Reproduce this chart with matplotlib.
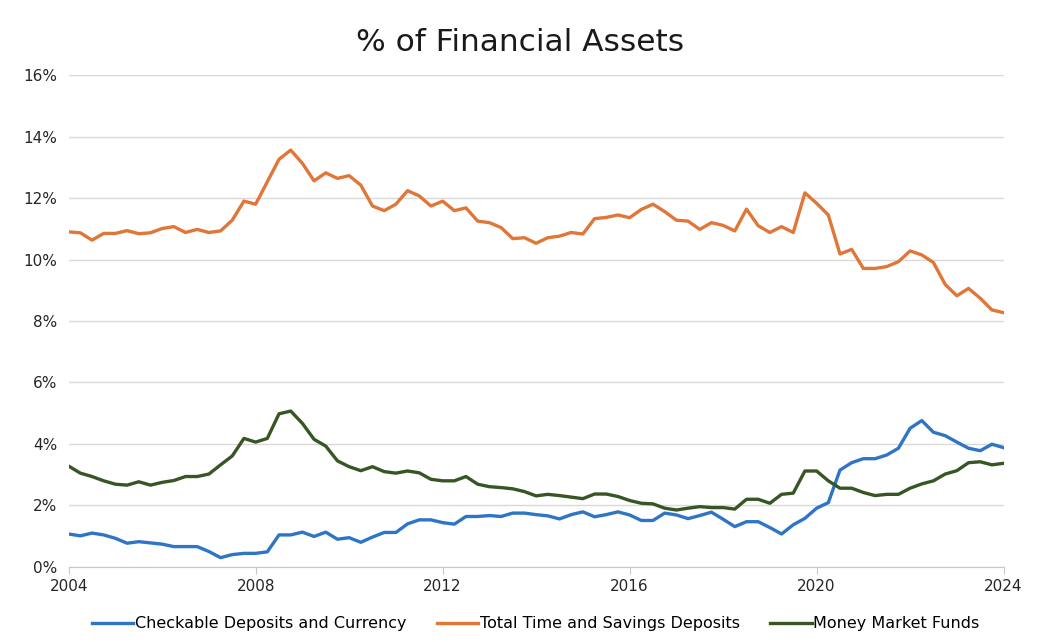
import numpy as np
import matplotlib.pyplot as plt

# quarterly observations, 2004 Q1 .. 2024 Q1
quarters = 2004 + np.arange(81) / 4.0

checkable = [1.07, 1.01, 1.10, 1.04,
             0.93, 0.77, 0.82, 0.78,
             0.74, 0.66, 0.66, 0.66,
             0.50, 0.30, 0.40, 0.44,
             0.44, 0.49, 1.04, 1.04,
             1.13, 0.99, 1.13, 0.90,
             0.95, 0.80, 0.97, 1.12,
             1.12, 1.40, 1.53, 1.53,
             1.44, 1.39, 1.64, 1.64,
             1.67, 1.64, 1.75, 1.75,
             1.70, 1.66, 1.56, 1.70,
             1.79, 1.63, 1.70, 1.79,
             1.69, 1.51, 1.51, 1.75,
             1.69, 1.57, 1.67, 1.78,
             1.55, 1.31, 1.47, 1.47,
             1.28, 1.07, 1.37, 1.58,
             1.91, 2.09, 3.15, 3.39,
             3.52, 3.52, 3.64, 3.86,
             4.51, 4.76, 4.38, 4.27,
             4.06, 3.86, 3.78, 3.99,
             3.88]

time_savings = [10.90, 10.87, 10.63, 10.85,
                10.85, 10.94, 10.84, 10.87,
                11.01, 11.07, 10.88, 10.98,
                10.88, 10.93, 11.28, 11.90,
                11.80, 12.53, 13.26, 13.56,
                13.13, 12.56, 12.82, 12.64,
                12.73, 12.42, 11.74, 11.59,
                11.80, 12.24, 12.07, 11.74,
                11.90, 11.59, 11.68, 11.25,
                11.20, 11.04, 10.68, 10.71,
                10.53, 10.71, 10.76, 10.88,
                10.83, 11.33, 11.37, 11.45,
                11.36, 11.63, 11.80, 11.56,
                11.28, 11.25, 10.98, 11.20,
                11.11, 10.93, 11.64, 11.10,
                10.88, 11.07, 10.88, 12.17,
                11.83, 11.45, 10.18, 10.33,
                9.71, 9.71, 9.77, 9.93,
                10.28, 10.15, 9.90, 9.19,
                8.82, 9.06, 8.74, 8.36,
                8.27]

money_market = [3.28, 3.05, 2.94, 2.80,
                2.69, 2.66, 2.77, 2.66,
                2.75, 2.81, 2.94, 2.94,
                3.02, 3.32, 3.61, 4.18,
                4.06, 4.18, 4.98, 5.07,
                4.67, 4.15, 3.93, 3.45,
                3.26, 3.13, 3.26, 3.10,
                3.05, 3.12, 3.06, 2.85,
                2.80, 2.80, 2.94, 2.69,
                2.61, 2.58, 2.54, 2.45,
                2.31, 2.36, 2.32, 2.27,
                2.22, 2.37, 2.37, 2.29,
                2.16, 2.07, 2.05, 1.91,
                1.85, 1.91, 1.96, 1.93,
                1.93, 1.88, 2.20, 2.20,
                2.07, 2.36, 2.40, 3.12,
                3.12, 2.80, 2.56, 2.56,
                2.42, 2.32, 2.36, 2.36,
                2.56, 2.70, 2.80, 3.02,
                3.13, 3.39, 3.42, 3.32,
                3.37]

xticks = [2004, 2008, 2012, 2016, 2020, 2024]
yticks = [0, 2, 4, 6, 8, 10, 12, 14, 16]

plt.rcParams['font.family'] = ['DejaVu Sans']

fig = plt.figure(figsize=(10.4, 6.42), dpi=100)
ax = fig.add_axes([0.066, 0.117, 0.899, 0.766])

ax.plot(quarters, checkable, color='#2E75C6', lw=2.4, label='Checkable Deposits and Currency')
ax.plot(quarters, time_savings, color='#E07638', lw=2.4, label='Total Time and Savings Deposits')
ax.plot(quarters, money_market, color='#375623', lw=2.4, label='Money Market Funds')

ax.set_xlim(2004, 2024)
ax.set_ylim(0, 16)
ax.set_xticks(xticks)
ax.set_xticklabels([str(t) for t in xticks], fontsize=11, color='#262626')
ax.set_yticks(yticks)
ax.set_yticklabels([f'{t}%' for t in yticks], fontsize=11, color='#262626')

ax.grid(axis='y', color='#d9d9d9', lw=1)
ax.set_axisbelow(True)
for s in ['top', 'right', 'left']:
    ax.spines[s].set_visible(False)
ax.spines['bottom'].set_color('#c8c8c8')
ax.tick_params(axis='y', length=0, pad=8)
ax.tick_params(axis='x', length=5, color='#c8c8c8', pad=4)

fig.suptitle('% of Financial Assets', fontsize=22.5, y=0.957, color='#1a1a1a')

fig.legend(loc='lower center', bbox_to_anchor=(0.515, -0.006), ncol=3, frameon=False,
           fontsize=11.5, handlelength=2.6, columnspacing=1.9, handletextpad=0.1)

plt.savefig('out.png', dpi=100)
